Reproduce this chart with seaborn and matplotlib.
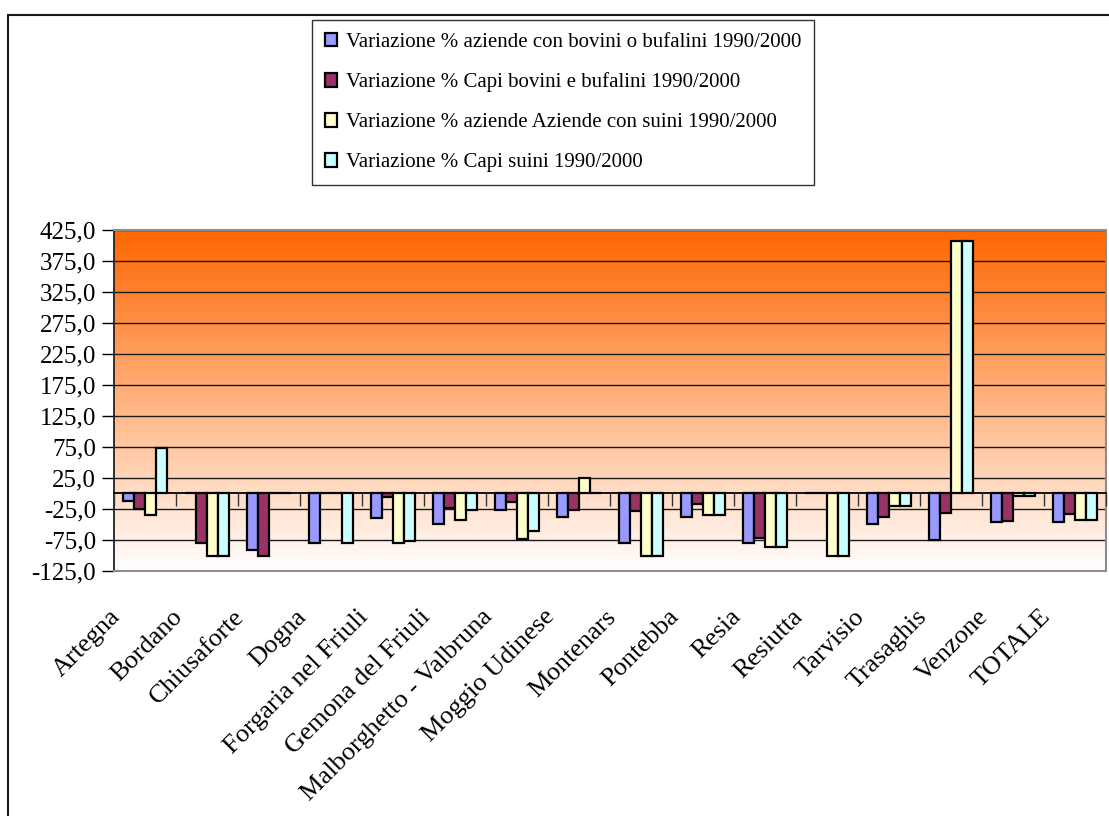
import numpy as np
import pandas as pd
import matplotlib
matplotlib.use("Agg")
import matplotlib.pyplot as plt
import seaborn as sns
from matplotlib.patches import Rectangle
from matplotlib.ticker import FuncFormatter
from matplotlib.colors import LinearSegmentedColormap
from matplotlib.transforms import ScaledTranslation

# --- data -------------------------------------------------------------
comuni = ["Artegna", "Bordano", "Chiusaforte", "Dogna", "Forgaria nel Friuli",
          "Gemona del Friuli", "Malborghetto - Valbruna", "Moggio Udinese",
          "Montenars", "Pontebba", "Resia", "Resiutta", "Tarvisio",
          "Trasaghis", "Venzone", "TOTALE"]

serie = [
    "Variazione % aziende con bovini o bufalini 1990/2000",
    "Variazione % Capi bovini e bufalini 1990/2000",
    "Variazione % aziende Aziende con suini 1990/2000",
    "Variazione % Capi suini 1990/2000",
]

aziende_bovini = [-11.6, 0.0, -90.9, -80.0, -40.0, -48.8, -26.2, -37.5,
                  -80.0, -37.5, -80.0, 0.0, -49.3, -74.6, -46.5, -46.5]
capi_bovini = [-25.5, -80.0, -100.0, 0.0, -6.0, -23.0, -14.2, -26.2,
               -28.3, -17.4, -71.4, 0.0, -37.5, -31.5, -44.0, -33.6]
aziende_suini = [-34.7, -100.0, 0.0, 0.0, -80.0, -43.3, -74.0, 25.0,
                 -100.0, -34.7, -86.0, -100.0, -20.2, 406.7, -3.5, -43.3]
capi_suini = [73.0, -100.0, 0.0, -80.0, -76.7, -26.2, -60.0, 0.0,
              -100.0, -34.7, -86.0, -100.0, -20.2, 406.7, -3.5, -43.3]

colori = ["#9999FF", "#993366", "#FFFFCC", "#CCFFFF"]

y_min, y_max, y_step = -125, 425, 50

# --- long-form table for seaborn ---------------------------------------
valori = [aziende_bovini, capi_bovini, aziende_suini, capi_suini]
df = pd.DataFrame({
    "Comune": np.tile(comuni, len(serie)),
    "Serie": np.repeat(serie, len(comuni)),
    "Valore": np.concatenate(valori),
})

serif = "Liberation Serif"
W, H = 1109, 816
fig = plt.figure(figsize=(W / 100, H / 100), dpi=100)
fig.patch.set_facecolor("white")

ax = fig.add_axes([114 / W, 1 - 571 / H, (1106 - 114) / W, (571 - 230) / H])

# orange-to-white gradient behind the plot area
grad = LinearSegmentedColormap.from_list("grad", ["#FFFFFF", "#FF6600"])
ax.imshow(np.linspace(0, 1, 256).reshape(-1, 1), extent=[0, 1, 0, 1],
          transform=ax.transAxes, origin="lower", aspect="auto",
          cmap=grad, zorder=0, interpolation="bilinear")

sns.barplot(data=df, x="Comune", y="Valore", hue="Serie", order=comuni,
            hue_order=serie, palette=colori, edgecolor="black",
            linewidth=1.6, width=0.72, gap=0, errorbar=None,
            saturation=1, ax=ax, zorder=2)

handles, labels = ax.get_legend_handles_labels()
if ax.get_legend() is not None:
    ax.get_legend().remove()

ax.set_xlim(-0.5, len(comuni) - 0.5)
ax.set_ylim(y_min, y_max)
ax.set_xlabel("")
ax.set_ylabel("")

# y axis: ticks, comma decimals, dark gridlines
ax.set_yticks(np.arange(y_min, y_max + 1, y_step))
ax.yaxis.set_major_formatter(FuncFormatter(lambda v, p: f"{v:.1f}".replace(".", ",")))
ax.yaxis.grid(True, color="#1a1a1a", linewidth=1.0)
ax.xaxis.grid(False)
ax.set_axisbelow(True)
ax.tick_params(axis="y", direction="out", length=9, width=1.0, color="black",
               pad=4, labelsize=18)
for lab in ax.get_yticklabels():
    lab.set_fontfamily(serif)

# x labels along the bottom of the plot area
ax.set_xticks(range(len(comuni)))
ax.set_xticklabels(comuni, rotation=45, ha="right", fontsize=19, family=serif)
ax.tick_params(axis="x", length=0, pad=25)
shift = ScaledTranslation(-20 / 100, 0, fig.dpi_scale_trans)
for lab in ax.get_xticklabels():
    lab.set_transform(lab.get_transform() + shift)

for side in ["top", "right", "bottom"]:
    ax.spines[side].set_color("#8c8c8c")
    ax.spines[side].set_linewidth(1.5)
ax.spines["left"].set_color("#222222")
ax.spines["left"].set_linewidth(1.3)

# category axis crossing at zero, with tick marks between categories
sec = ax.secondary_xaxis((0 - y_min) / (y_max - y_min))
sec.set_xticks(np.arange(len(comuni) + 1) - 0.5)
sec.tick_params(axis="x", direction="out", length=9, width=1.0,
                color="#333333", labelbottom=False, labeltop=False)
for side in ["top", "bottom"]:
    sec.spines[side].set_color("black")
    sec.spines[side].set_linewidth(1.3)
sec.set_zorder(3)

# legend box above the plot
fig.legend(handles, labels, loc="upper left",
           bbox_to_anchor=(312 / W, 1 - 20 / H),
           frameon=True, fancybox=False, shadow=False,
           edgecolor="#333333", framealpha=1,
           prop={"family": serif, "size": 15},
           handlelength=0.62, handleheight=0.62, handletextpad=0.4,
           labelspacing=1.0, borderpad=0.6, borderaxespad=0)

# outer chart frame
fig.add_artist(Rectangle((8 / W, -0.1), 1.2, 1.1 - 15 / H,
                         transform=fig.transFigure, fill=False,
                         edgecolor="#1a1a1a", linewidth=1.5))

fig.savefig("out.png", dpi=100)
